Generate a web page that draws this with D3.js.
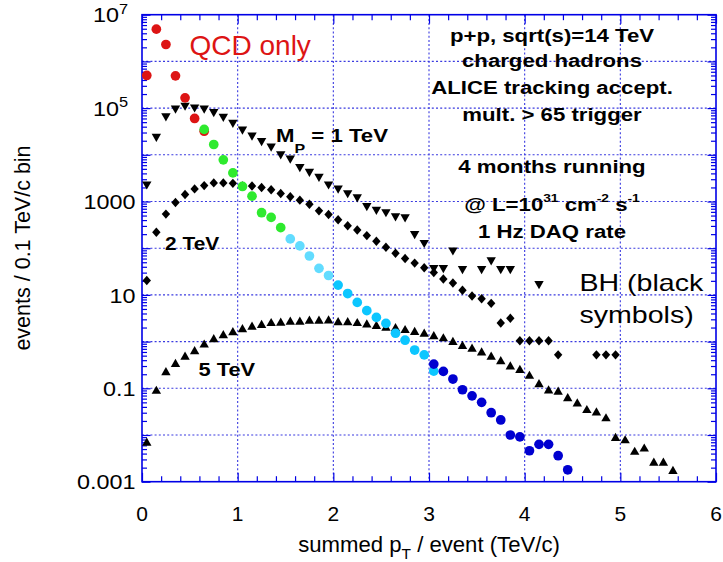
<!DOCTYPE html>
<html><head><meta charset="utf-8">
<script src="https://cdn.jsdelivr.net/npm/d3@7"></script>
<style>body{margin:0;background:#fff}svg{display:block}</style>
</head><body><svg id="c" width="723" height="562"></svg>
<script>
// ---------- data ----------
const xTickLabels = ["0","1","2","3","4","5","6"];
const xTickVals = [0,1,2,3,4,5,6];
const yLabelVals = [1e7,1e5,1e3,10,0.1,0.001];
const yLabelText = ["10^7","10^5","1000","10","0.1","0.001"];

// QCD only (coloured circles)
const redX   = [0.05,0.15,0.25,0.35,0.45,0.55,0.65];
const redY   = [5.0e5,4.9e6,2.3e6,4.9e5,1.66e5,6.0e4,3.2e4];
const greenX = [0.65,0.75,0.85,0.95,1.05,1.15,1.25,1.35,1.45];
const greenY = [3.5e4,1.66e4,7.8e3,4.1e3,2.1e3,1.3e3,575,457,275];
const lcyanX = [1.55,1.65,1.75,1.85,1.95];
const lcyanY = [158,112,68,37,26];
const cyanX  = [2.05,2.15,2.25,2.35,2.45,2.55,2.65,2.75,2.85,2.95,3.05];
const cyanY  = [16.2,10.7,6.9,4.6,3.3,2.45,1.51,1.07,0.66,0.52,0.234];
const blueX  = [3.05,3.15,3.25,3.35,3.45,3.55,3.65,3.75,3.85,3.95,4.05,4.15,4.25,4.35,4.45];
const blueY  = [0.33,0.23,0.158,0.093,0.069,0.050,0.030,0.021,0.0100,0.0091,0.0046,0.0063,0.0063,0.0036,0.0018];

// BH, M_P = 1 TeV (down triangles)
const bh1X = [0.05,0.15,0.25,0.35,0.45,0.55,0.65,0.75,0.85,0.95,1.05,1.15,1.25,1.35,1.45,1.55,1.65,1.75,1.85,1.95,
              2.05,2.15,2.25,2.35,2.45,2.55,2.65,2.75,2.85,2.95,3.05,3.15,3.25,3.35,3.55,3.65,3.75,3.85,4.15];
const bh1Y = [2.2e3,2.3e4,6.3e4,9.3e4,1.07e5,9.8e4,9.3e4,7.8e4,6.2e4,4.6e4,3.3e4,2.45e4,1.86e4,1.43e4,9.7e3,7.9e3,5.2e3,4.1e3,3.2e3,2.2e3,
              1.8e3,1.43e3,1.17e3,760,630,560,457,436,190,123,35.5,35.5,85,34,34,52,34,34,16.2];
// BH, 2 TeV (diamonds)
const bh2X = [0.05,0.15,0.25,0.35,0.45,0.55,0.65,0.75,0.85,0.95,1.05,1.15,1.25,1.35,1.45,1.55,1.65,1.75,1.85,1.95,
              2.05,2.15,2.25,2.35,2.45,2.55,2.65,2.75,2.85,2.95,3.05,3.15,3.25,3.35,3.45,3.55,3.65,3.75,3.85,
              3.95,4.05,4.15,4.25,4.35,4.75,4.85,4.95];
const bh2Y = [20.4,219,537,955,1410,1860,2190,2500,2500,2450,2140,2140,2000,1780,1480,1260,1070,870,630,525,
              407,302,245,186,141,105,78,60,48,38,30,21.9,18,12.6,9.5,8.3,6.6,2.5,3.16,
              1.04,1.04,1.04,1.04,0.52,0.52,0.52,0.52];
// BH, 5 TeV (up triangles)
const bh5X = [0.05,0.15,0.25,0.35,0.45,0.55,0.65,0.75,0.85,0.95,1.05,1.15,1.25,1.35,1.45,1.55,1.65,1.75,1.85,1.95,
              2.05,2.15,2.25,2.35,2.45,2.55,2.65,2.75,2.85,2.95,3.05,3.15,3.25,3.35,3.45,3.55,3.65,3.75,3.85,3.95,
              4.05,4.15,4.25,4.35,4.45,4.55,4.65,4.75,4.85,4.95,5.05,5.15,5.25,5.35,5.45,5.55];
const bh5Y = [0.0072,0.093,0.234,0.35,0.50,0.66,0.91,1.19,1.45,1.68,1.95,2.19,2.40,2.63,2.69,2.82,2.82,2.95,2.95,2.99,
              2.75,2.75,2.63,2.45,2.29,2.09,2.04,1.86,1.70,1.55,1.38,1.24,1.04,0.85,0.74,0.62,0.50,0.40,0.31,0.26,
              0.195,0.129,0.095,0.089,0.065,0.050,0.036,0.032,0.024,0.0091,0.0081,0.0046,0.0054,0.0027,0.0027,0.0018];

// ---------- layout ----------
const L = 142, R = 716, T = 14.7, B = 481.7;
const svg = d3.select("#c");
const FONT = "'Liberation Sans', Arial, Helvetica, sans-serif";
const BLUE = "#0000e6";

const x = d3.scaleLinear().domain([0,6]).range([L,R]);
const y = d3.scaleLog().domain([1e-3,1e7]).range([B,T]);

// text helper with horizontal stretch and sub/superscripts
function label(parent, px, py, parts, o) {
  const size = o.size, sx = o.sx || 1;
  const t = parent.append("text")
    .attr("transform", `translate(${px},${py}) scale(${sx},1)` + (o.rotate ? ` rotate(${o.rotate})` : ""))
    .attr("font-family", FONT).attr("font-size", size)
    .attr("font-weight", o.bold ? "bold" : "normal")
    .attr("text-anchor", o.anchor || "start")
    .attr("fill", o.fill || "#000")
    .style("white-space", "pre");
  let cur = 0;
  parts.forEach(p => {
    const target = p.sup ? -size * (o.supRaise || 0.45) : p.sub ? size * (o.subDrop || 0.3) : 0;
    const ts = t.append("tspan").attr("dy", target - cur).text(p.t);
    if (p.sup || p.sub) ts.attr("font-size", size * (o.smallScale || 0.68));
    cur = target;
  });
  return t;
}
function parseSup(s) {
  const i = s.indexOf("^");
  return i < 0 ? [{t:s}] : [{t:s.slice(0,i)},{t:s.slice(i+1),sup:true}];
}

// ---------- grid ----------
const grid = svg.append("g").attr("stroke", "#3a3ae0").attr("stroke-width", 1.1)
  .attr("stroke-dasharray", "2,2.2").attr("fill", "none");
[1,2,3,4,5].forEach(v => grid.append("line").attr("x1", x(v)).attr("x2", x(v)).attr("y1", T).attr("y2", B));
[1e-2,1e-1,1,10,100,1e3,1e4,1e5,1e6].forEach(v => grid.append("line").attr("x1", L).attr("x2", R).attr("y1", y(v)).attr("y2", y(v)));

// ---------- axes ticks (inside) ----------
const xMajor = xTickVals;
const xMinor = d3.range(0, 6.0001, 0.2).filter(v => Math.abs(v - Math.round(v)) > 1e-6);
const yMajor = [1e-3,1e-2,1e-1,1,10,100,1e3,1e4,1e5,1e6,1e7];
const yMinor = [];
for (let e = -3; e < 7; e++) for (let m = 2; m <= 9; m++) yMinor.push(m * Math.pow(10, e));

function styleAxis(g) {
  g.select(".domain").remove();
  g.selectAll(".tick line").attr("stroke", BLUE).attr("stroke-width", 1.2);
  g.selectAll(".tick text").remove();
}
svg.append("g").attr("transform", `translate(0,${B})`).call(d3.axisBottom(x).tickValues(xMajor).tickSize(-9).tickFormat("")).call(styleAxis);
svg.append("g").attr("transform", `translate(0,${B})`).call(d3.axisBottom(x).tickValues(xMinor).tickSize(-5.5).tickFormat("")).call(styleAxis);
svg.append("g").attr("transform", `translate(0,${T})`).call(d3.axisTop(x).tickValues(xMajor).tickSize(-9).tickFormat("")).call(styleAxis);
svg.append("g").attr("transform", `translate(0,${T})`).call(d3.axisTop(x).tickValues(xMinor).tickSize(-5.5).tickFormat("")).call(styleAxis);
svg.append("g").attr("transform", `translate(${L},0)`).call(d3.axisLeft(y).tickValues(yMajor).tickSize(-8.5).tickFormat("")).call(styleAxis);
svg.append("g").attr("transform", `translate(${L},0)`).call(d3.axisLeft(y).tickValues(yMinor).tickSize(-5).tickFormat("")).call(styleAxis);
svg.append("g").attr("transform", `translate(${R},0)`).call(d3.axisRight(y).tickValues(yMajor).tickSize(-8.5).tickFormat("")).call(styleAxis);
svg.append("g").attr("transform", `translate(${R},0)`).call(d3.axisRight(y).tickValues(yMinor).tickSize(-5).tickFormat("")).call(styleAxis);

// frame
svg.append("rect").attr("x", L).attr("y", T).attr("width", R - L).attr("height", B - T)
  .attr("fill", "none").attr("stroke", BLUE).attr("stroke-width", 1.6);

// ---------- markers ----------
function zip(xs, ys) { return xs.map((v, i) => [v, ys[i]]); }
const tri = (d) => d === "down" ? "M-4.7,-4.1L4.7,-4.1L0,4.1Z" : "M-4.7,4.1L4.7,4.1L0,-4.1Z";
const diamond = "M0,-4.7L4.2,0L0,4.7L-4.2,0Z";
const circlePath = d3.symbol(d3.symbolCircle, 74)();

function drawSeries(xs, ys, path, fill) {
  svg.append("g").selectAll("path").data(zip(xs, ys)).join("path")
    .attr("transform", d => `translate(${x(d[0])},${y(d[1])})`)
    .attr("d", path).attr("fill", fill);
}
drawSeries(bh1X, bh1Y, tri("down"), "#000");
drawSeries(bh2X, bh2Y, diamond, "#000");
drawSeries(bh5X, bh5Y, tri("up"), "#000");
drawSeries(redX, redY, circlePath, "#dd1414");
drawSeries(greenX, greenY, circlePath, "#2eea2e");
drawSeries(lcyanX, lcyanY, circlePath, "#62dcff");
drawSeries(cyanX, cyanY, circlePath, "#0cc6ff");
drawSeries(blueX, blueY, circlePath, "#0000d0");

// ---------- tick labels ----------
xTickVals.forEach((v, i) => label(svg, x(v), 521, [{t:xTickLabels[i]}], {size:20, anchor:"middle", sx:1.05}));
yLabelVals.forEach((v, i) => {
  const s = yLabelText[i];
  const hasExp = s.indexOf("^") >= 0;
  label(svg, hasExp ? 128 : 135.5, y(v) + 7.6, parseSup(s),
        {size:20, anchor:"end", sx:1.17, supRaise:0.42, smallScale:0.7});
});

// ---------- axis titles ----------
label(svg, 429, 552, [{t:"summed p"},{t:"T",sub:true},{t:" / event (TeV/c)"}],
      {size:21.5, anchor:"middle", sx:1.03, subDrop:0.32, smallScale:0.7});
label(svg, 30, 248, [{t:"events / 0.1 TeV/c bin"}], {size:21.5, anchor:"middle", rotate:-90});

// ---------- annotations ----------
label(svg, 189.5, 55, [{t:"QCD only"}], {size:28, fill:"#dd1414", sx:1.0});
label(svg, 276, 141.7, [{t:"M"},{t:"P",sub:true},{t:" = 1 TeV"}], {size:18.5, bold:true, sx:1.2, subDrop:0.6, smallScale:0.72});
label(svg, 165, 250, [{t:"2 TeV"}], {size:19, bold:true, sx:1.1});
label(svg, 198.5, 375.7, [{t:"5 TeV"}], {size:19, bold:true, sx:1.15});

const infoLines = [
  {yy:41.7,  parts:[{t:"p+p, sqrt(s)=14 TeV"}]},
  {yy:67.3,  parts:[{t:"charged hadrons"}]},
  {yy:94.3,  parts:[{t:"ALICE tracking accept."}]},
  {yy:121,   parts:[{t:"mult. > 65 trigger"}]},
  {yy:173.3, parts:[{t:"4 months running"}]},
  {yy:211,   parts:[{t:"@ L=10"},{t:"31",sup:true},{t:" cm"},{t:"-2",sup:true},{t:" s"},{t:"-1",sup:true}]},
  {yy:237.7, parts:[{t:"1 Hz DAQ rate"}]}
];
infoLines.forEach(l => label(svg, 552, l.yy, l.parts, {size:18.5, bold:true, anchor:"middle", sx:1.2, supRaise:0.5, smallScale:0.62}));

label(svg, 579.5, 290.7, [{t:"BH (black"}], {size:24, sx:1.19});
label(svg, 579.5, 323.3, [{t:"symbols)"}], {size:24, sx:1.19});
</script></body></html>
